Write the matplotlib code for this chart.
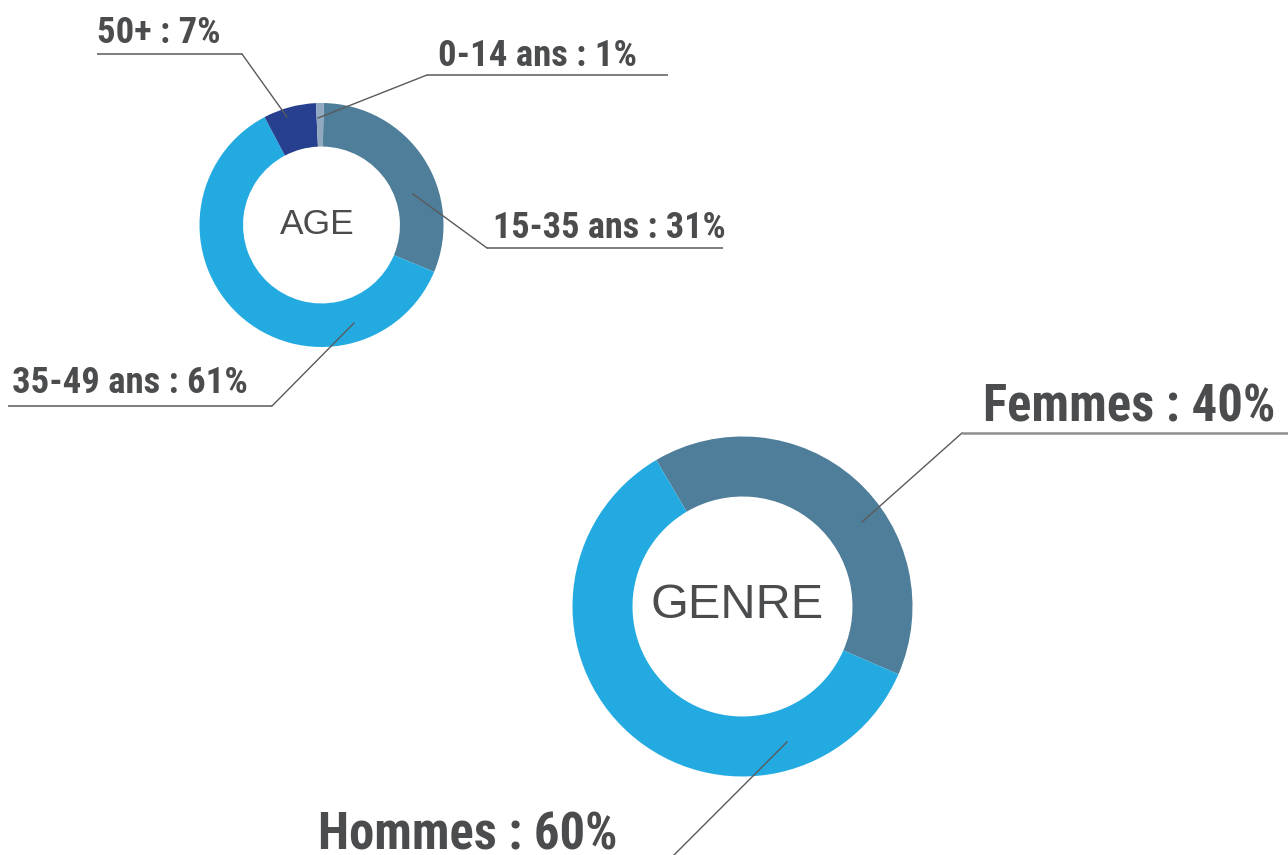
import os
import matplotlib
matplotlib.use("Agg")
import matplotlib.pyplot as plt
from matplotlib import font_manager
from matplotlib.font_manager import FontProperties

# ---------------- data ----------------
age_labels = ["15-35 ans", "35-49 ans", "50+", "0-14 ans"]
age_values = [31, 61, 7, 1]
age_colors = ["#4e7e99", "#23abe1", "#263f8f", "#91a9c0"]

genre_labels = ["Femmes", "Hommes"]
genre_values = [40, 60]
genre_colors = ["#4e7e99", "#23abe1"]

# ---------------- fonts ----------------
W, H = 1288, 855
def Y(y):
    return H - y

prefs = ["liberationsansnarrow-bold.", "robotocondensed-bold.",
         "notosans-condensedbold.", "opensans-condensedbold.",
         "opensanscondensed-bold.", "notosans-extracondensedbold.",
         "notosans-semicondensedbold.", "dejavusanscondensed-bold."]
files = {os.path.basename(f.fname).lower(): f.fname
         for f in font_manager.fontManager.ttflist}
lab_fp = None
for p in prefs:
    for fn, path in files.items():
        if fn.startswith(p):
            lab_fp = FontProperties(fname=path)
            break
    if lab_fp is not None:
        break
if lab_fp is None:
    lab_fp = FontProperties(family="DejaVu Sans", weight="bold",
                            stretch="condensed")

names = {f.name for f in font_manager.fontManager.ttflist}
center_font = "Liberation Sans" if "Liberation Sans" in names else "DejaVu Sans"

text_col = "#4b4c4e"
line_col = "#5a5a5a"

fig = plt.figure(figsize=(W / 100, H / 100), dpi=100)
ax = fig.add_axes([0, 0, 1, 1])

# AGE donut
age_c, age_r = (321.5, Y(225)), 122
ax.pie(age_values, colors=age_colors, startangle=89, counterclock=False,
       center=age_c, radius=age_r,
       wedgeprops=dict(width=age_r * 0.357, edgecolor="none"))

# GENRE donut
gen_c, gen_r = (742.5, Y(606.5)), 170
ax.pie(genre_values, colors=genre_colors, startangle=120.5, counterclock=False,
       center=gen_c, radius=gen_r,
       wedgeprops=dict(width=gen_r * 0.353, edgecolor="none"))

ax.set_xlim(0, W)
ax.set_ylim(0, H)
ax.set_aspect("equal")
ax.axis("off")

# center titles
ax.text(age_c[0] - 4, Y(224), "AGE", ha="center", va="center",
        family=center_font, fontsize=25.5, color=text_col)
ax.text(gen_c[0] - 5, Y(605), "GENRE", ha="center", va="center",
        family=center_font, fontsize=35, color=text_col)

renderer = fig.canvas.get_renderer()

def fitted_text(x, y, s, max_fs, target_w):
    fp = lab_fp.copy()
    fp.set_size(max_fs)
    t = ax.text(x, y, s, ha="left", va="baseline", fontproperties=fp,
                color=text_col)
    w = t.get_window_extent(renderer).width
    if w > target_w:
        fp.set_size(max_fs * target_w / w)
        t.set_fontproperties(fp)
    return t

# labels: (text x, baseline y, max size, target width, underline, uy, p0, p1)
age_layout = {
    "50+":       (97, 43, 26.5, 131, (97, 242), 54, (242, 54), (287, 117)),
    "0-14 ans":  (438, 66, 26.5, 200, (427, 668), 75, (427, 75), (318, 118)),
    "15-35 ans": (493, 238, 26.5, 233, (487, 723), 248, (487, 248), (413, 194)),
    "35-49 ans": (12, 393, 26.5, 236, (8, 272), 406, (272, 406), (354, 323)),
}
for lab, val in zip(age_labels, age_values):
    tx, ty, fs, tw, (ux0, ux1), uy, p0, p1 = age_layout[lab]
    fitted_text(tx, Y(ty), f"{lab} : {val}%", fs, tw)
    ax.plot([ux0, ux1], [Y(uy), Y(uy)], color=line_col, lw=1.1,
            solid_capstyle="butt")
    ax.plot([p0[0], p1[0]], [Y(p0[1]), Y(p1[1])], color=line_col, lw=1.0)

genre_layout = {
    "Femmes": (983, 421, 36.5, 295, (962, 1290), 433, (962, 433), (862, 522)),
    "Hommes": (318, 849, 36.5, 300, None, None, (662, 867), (787, 742)),
}
for lab, val in zip(genre_labels, genre_values):
    tx, ty, fs, tw, ux, uy, p0, p1 = genre_layout[lab]
    fitted_text(tx, Y(ty), f"{lab} : {val}%", fs, tw)
    if ux is not None:
        ax.plot([ux[0], ux[1]], [Y(uy), Y(uy)], color="#8e8e8e", lw=1.8,
                solid_capstyle="butt")
    ax.plot([p0[0], p1[0]], [Y(p0[1]), Y(p1[1])], color=line_col, lw=1.0,
            clip_on=False)

fig.savefig("out.png", dpi=100, facecolor="white")
